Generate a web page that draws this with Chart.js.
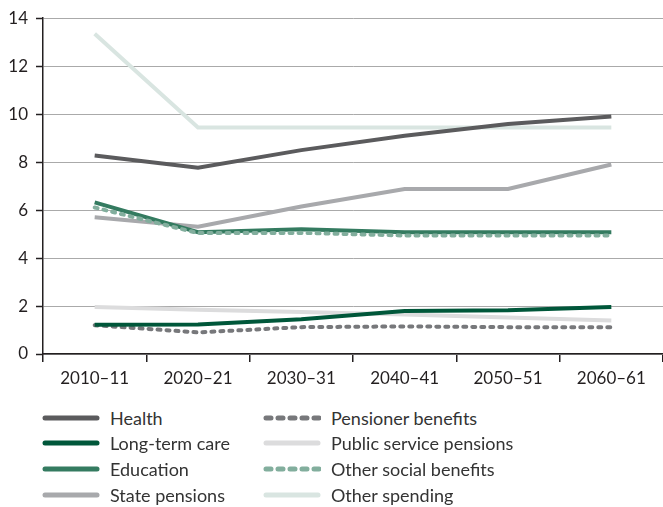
<!DOCTYPE html>
<html>
<head>
<meta charset="utf-8">
<script src="https://cdn.jsdelivr.net/npm/chart.js@4"></script>
<style>
  html, body { margin: 0; padding: 0; background: #fff; }
  #wrap { position: relative; width: 663px; height: 507px; font-family: Lato, "Liberation Sans", Arial, sans-serif; }
  #cv { position: absolute; left: 0; top: 0; }
  .leg { position: absolute; display: flex; align-items: center; font-size: 18px; color: #333; line-height: 22px; height: 22px; }
  .sw { width: 58px; height: 6px; margin-right: 10px; }
  .sw canvas { display: block; }
</style>
</head>
<body>
<div id="wrap">
  <canvas id="cv" width="663" height="400"></canvas>
  <div id="legend"></div>
</div>
<script>
const categories = ["2010\u201311", "2020\u201321", "2030\u201331", "2040\u201341", "2050\u201351", "2060\u201361"];
const yTicks = [0, 2, 4, 6, 8, 10, 12, 14];

const health = [8.28, 7.77, 8.5, 9.1, 9.59, 9.9];
const longTermCare = [1.22, 1.23, 1.45, 1.79, 1.82, 1.96];
const education = [6.32, 5.08, 5.2, 5.08, 5.08, 5.08];
const statePensions = [5.7, 5.31, 6.15, 6.88, 6.88, 7.9];
const pensionerBenefits = [1.2, 0.9, 1.12, 1.15, 1.12, 1.12];
const publicServicePensions = [1.96, 1.85, 1.75, 1.65, 1.52, 1.4];
const otherSocialBenefits = [6.11, 5.04, 5.05, 4.94, 4.94, 4.94];
const otherSpending = [13.35, 9.44, 9.44, 9.44, 9.44, 9.44];

const series = [
  { label: "Health", data: health, color: "#5b5b5d", dash: false, order: 1 },
  { label: "Long-term care", data: longTermCare, color: "#00573a", dash: false, order: 2 },
  { label: "Education", data: education, color: "#347b60", dash: false, order: 4 },
  { label: "State pensions", data: statePensions, color: "#a8a9ac", dash: false, order: 5 },
  { label: "Pensioner benefits", data: pensionerBenefits, color: "#77787b", dash: true, order: 3 },
  { label: "Public service pensions", data: publicServicePensions, color: "#dcdcdd", dash: false, order: 6 },
  { label: "Other social benefits", data: otherSocialBenefits, color: "#82ae9d", dash: true, order: 3 },
  { label: "Other spending", data: otherSpending, color: "#d9e5e1", dash: false, order: 7 }
];

const datasets = series.map(s => ({
  label: s.label,
  data: s.data,
  borderColor: s.color,
  backgroundColor: s.color,
  borderWidth: 4,
  borderDash: s.dash ? [3, 6] : [],
  borderCapStyle: s.dash ? "round" : "butt",
  borderJoinStyle: "miter",
  pointRadius: 0,
  tension: 0,
  fill: false,
  order: s.order
}));

const tickFont = { family: "Lato", size: 17 };

new Chart(document.getElementById("cv"), {
  type: "line",
  data: { labels: categories, datasets },
  options: {
    responsive: false,
    animation: false,
    layout: { padding: { top: 14, right: 0, left: 0, bottom: 0 } },
    plugins: { legend: { display: false }, tooltip: { enabled: false } },
    scales: {
      x: {
        offset: true,
        grid: { display: true, drawOnChartArea: false, drawTicks: true, tickLength: 8, color: "#231f20", lineWidth: 1.5, offset: true },
        border: { display: true, color: "#231f20", width: 1.5 },
        ticks: { color: "#231f20", font: tickFont, padding: 6, maxRotation: 0 },
        afterFit: s => { s.height = 46; }
      },
      y: {
        min: 0, max: 14,
        afterBuildTicks: s => { s.ticks = yTicks.map(v => ({ value: v })); },
        grid: { color: "#aaaaaa", lineWidth: 1, borderDash: [3, 3], drawTicks: true, tickLength: 7, tickColor: "#231f20", tickBorderDash: [], tickWidth: 1.5 },
        border: { display: true, color: "#231f20", width: 1.5 },
        ticks: { color: "#231f20", font: tickFont, padding: 8 },
        afterFit: s => { s.width = 43; }
      }
    }
  }
});

// HTML legend (two columns, column-major)
const leg = document.getElementById("legend");
const rowY = [418, 443, 469, 495];
series.forEach((s, i) => {
  const col = Math.floor(i / 4), row = i % 4;
  const d = document.createElement("div");
  d.className = "leg";
  d.style.left = (col === 0 ? 42 : 263) + "px";
  d.style.top = (rowY[row] - 11) + "px";
  const sw = document.createElement("div");
  sw.className = "sw";
  const c = document.createElement("canvas");
  c.width = 58; c.height = 6;
  const x = c.getContext("2d");
  x.strokeStyle = s.color; x.lineWidth = 5; x.lineCap = "round";
  if (s.dash) { x.setLineDash([5, 7]); x.beginPath(); x.moveTo(3, 3); x.lineTo(57, 3); }
  else { x.beginPath(); x.moveTo(3, 3); x.lineTo(55, 3); }
  x.stroke();
  sw.appendChild(c);
  const t = document.createElement("span");
  t.textContent = s.label;
  d.appendChild(sw); d.appendChild(t);
  leg.appendChild(d);
});
</script>
</body>
</html>
